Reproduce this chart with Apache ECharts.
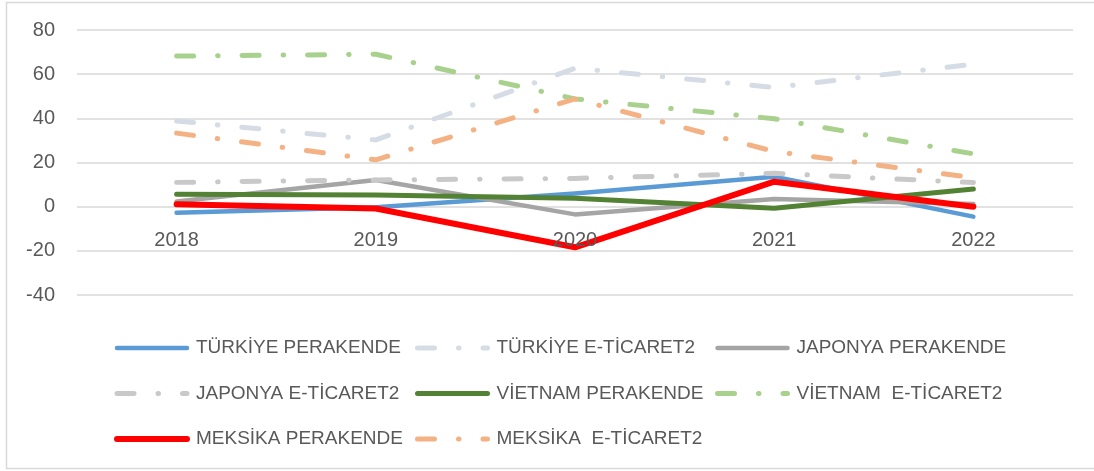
<!DOCTYPE html>
<html>
<head>
<meta charset="utf-8">
<script src="https://cdn.jsdelivr.net/npm/echarts@6/dist/echarts.min.js"></script>
<style>
  html, body { margin: 0; padding: 0; background: #fff; }
  #chart { width: 1094px; height: 471px; }
</style>
</head>
<body>
<div id="chart"></div>
<script>
const years = ['2018', '2019', '2020', '2021', '2022']
const yTicks = [-40, -20, 0, 20, 40, 60, 80]

const turkiyePerakende = [-2.7, -0.3, 6, 13.6, -4.5]
const turkiyeETicaret = [38.8, 30.2, 62.7, 54, 64.5]
const japonyaPerakende = [2.3, 12.1, -3.5, 3.5, 1.2]
const japonyaETicaret = [11, 12.1, 12.8, 15.1, 10.9]
const vietnamPerakende = [5.6, 5.3, 3.8, -0.7, 8]
const vietnamETicaret = [68.2, 69, 48.8, 39.8, 23.9]
const meksikaPerakende = [1.1, -0.8, -18.4, 11.3, 0]
const meksikaETicaret = [33.3, 21.2, 48.8, 25, 13.1]

const dashDot = [17, 24, 0.5, 24]

const makeLine = (name, data, color, width, dashed) => ({
  name,
  type: 'line',
  data,
  symbol: 'none',
  itemStyle: { color },
  lineStyle: {
    color,
    width,
    type: dashed ? dashDot : 'solid',
    cap: 'round',
    join: 'round'
  },
  emphasis: { disabled: true },
  animation: false
})

const series = [
  makeLine('TÜRKİYE PERAKENDE', turkiyePerakende, '#5B9BD5', 4.5, false),
  makeLine('TÜRKİYE E-TİCARET2', turkiyeETicaret, '#D6DCE5', 5, true),
  makeLine('JAPONYA PERAKENDE', japonyaPerakende, '#A5A5A5', 4.5, false),
  makeLine('JAPONYA E-TİCARET2', japonyaETicaret, '#C9C9C9', 5, true),
  makeLine('VİETNAM PERAKENDE', vietnamPerakende, '#548235', 5, false),
  makeLine('VİETNAM  E-TİCARET2', vietnamETicaret, '#A9D18E', 5, true),
  makeLine('MEKSİKA PERAKENDE', meksikaPerakende, '#FF0000', 6, false),
  makeLine('MEKSİKA  E-TİCARET2', meksikaETicaret, '#F4B183', 5, true)
]

const fontFamily = '"Liberation Sans", Arial, sans-serif'

const makeLegend = (left, data) => ({
  orient: 'vertical',
  left,
  top: 336,
  padding: 0,
  itemWidth: 70,
  itemHeight: 14,
  itemGap: 21.5,
  selectedMode: false,
  data,
  // hide the symbol drawn in the middle of the line icon
  itemStyle: { color: 'rgba(0,0,0,0)', borderWidth: 0 },
  lineStyle: { width: 'inherit', type: 'inherit', cap: 'inherit' },
  textStyle: {
    color: '#595959',
    fontSize: 19,
    fontFamily,
    lineHeight: 24,
    padding: [0, 0, 0, 4]
  }
})

const chart = echarts.init(document.getElementById('chart'))

chart.setOption({
  backgroundColor: '#fff',
  animation: false,
  graphic: [{
    type: 'rect',
    shape: { x: 6.5, y: 2.5, width: 1100, height: 466 },
    style: { fill: 'none', stroke: '#D9D9D9', lineWidth: 1.5 },
    silent: true
  }],
  grid: {
    left: 77,
    right: 21,
    top: 30,
    bottom: 176
  },
  legend: [
    makeLegend(114, ['TÜRKİYE PERAKENDE', 'JAPONYA E-TİCARET2', 'MEKSİKA PERAKENDE']),
    makeLegend(415, ['TÜRKİYE E-TİCARET2', 'VİETNAM PERAKENDE', 'MEKSİKA  E-TİCARET2']),
    makeLegend(715, ['JAPONYA PERAKENDE', 'VİETNAM  E-TİCARET2'])
  ],
  xAxis: {
    type: 'category',
    data: years,
    boundaryGap: true,
    z: 10,
    // labels sit just under the zero line, as in the original
    offset: -88.3,
    axisLine: { show: false, onZero: false },
    axisTick: { show: false },
    axisLabel: {
      color: '#595959',
      fontSize: 20,
      fontFamily,
      margin: 24
    },
    splitLine: { show: false }
  },
  yAxis: {
    type: 'value',
    min: yTicks[0],
    max: yTicks[yTicks.length - 1],
    interval: 20,
    axisLine: { show: false },
    axisTick: { show: false },
    axisLabel: {
      color: '#595959',
      fontSize: 20,
      fontFamily,
      margin: 22
    },
    splitLine: {
      lineStyle: { color: '#D9D9D9', width: 1.5 }
    }
  },
  series
})

window.addEventListener('resize', () => {
  chart.resize()
})
</script>
</body>
</html>
